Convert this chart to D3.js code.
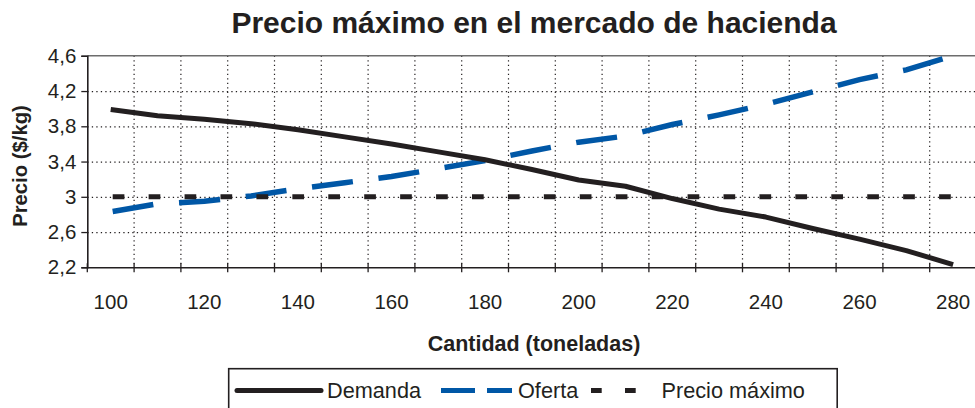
<!DOCTYPE html>
<html>
<head>
<meta charset="utf-8">
<script src="https://cdn.jsdelivr.net/npm/d3@7"></script>
<style>
  html, body { margin: 0; padding: 0; background: #fff; }
  svg { display: block; font-family: "Liberation Sans", Arial, Helvetica, sans-serif; }
</style>
</head>
<body>
<svg id="chart" width="975" height="408"></svg>
<script>
// ---- Data ----
const categories = [100, 110, 120, 130, 140, 150, 160, 170, 180, 190, 200, 210, 220, 230, 240, 250, 260, 270, 280];
const demanda = [3.99, 3.92, 3.88, 3.83, 3.76, 3.68, 3.60, 3.51, 3.42, 3.31, 3.19, 3.12, 2.98, 2.86, 2.77, 2.64, 2.52, 2.39, 2.23];
const oferta  = [2.83, 2.92, 2.95, 3.01, 3.09, 3.16, 3.23, 3.32, 3.41, 3.52, 3.62, 3.69, 3.82, 3.93, 4.05, 4.19, 4.33, 4.44, 4.60];
const precioMaximo = [3, 3, 3, 3, 3, 3, 3, 3, 3, 3, 3, 3, 3, 3, 3, 3, 3, 3, 3];
const yTicks = [2.2, 2.6, 3.0, 3.4, 3.8, 4.2, 4.6];
const xLabels = [100, 120, 140, 160, 180, 200, 220, 240, 260, 280];
const seriesNames = ["Demanda", "Oferta", "Precio máximo"];

const title = "Precio máximo en el mercado de hacienda";
const xTitle = "Cantidad (toneladas)";
const yTitle = "Precio ($/kg)";

// ---- Layout ----
const svg = d3.select("#chart");
const M = { left: 87.3, top: 55.8, right: 976.5, bottom: 267.3 };
const ink = "#231f20";
const blue = "#0057a6";

const x = d3.scaleBand().domain(categories).range([M.left, M.right]).padding(0);
const y = d3.scaleLinear().domain([2.2, 4.6]).range([M.bottom, M.top]);
const cx = d => x(d) + x.bandwidth() / 2;
const fmt = v => d3.format(".1f")(v).replace(".", ",").replace(/,0$/, "");

// Gridlines horizontal
const gY = svg.append("g")
  .attr("transform", `translate(${M.left},0)`)
  .call(d3.axisLeft(y).tickValues(yTicks).tickSize(-(M.right - M.left)).tickFormat(""));
gY.select(".domain").remove();
gY.selectAll(".tick line")
  .attr("stroke", d => (d === 4.6 || d === 2.2) ? "none" : ink)
  .attr("stroke-dasharray", "1.3,3.2").attr("stroke-width", 1.2);

// Gridlines vertical at category boundaries
const boundaries = categories.slice(1);
svg.append("g").selectAll("line").data(boundaries).join("line")
  .attr("x1", d => x(d)).attr("x2", d => x(d))
  .attr("y1", M.top).attr("y2", M.bottom)
  .attr("stroke", ink).attr("stroke-width", 1.2).attr("stroke-dasharray", "1.3,3.2");

// Top border
svg.append("line").attr("x1", M.left).attr("x2", 975).attr("y1", M.top).attr("y2", M.top)
  .attr("stroke", "#6d6d6d").attr("stroke-width", 1.6);

// Y axis
const yAxis = svg.append("g")
  .attr("transform", `translate(${M.left},0)`)
  .call(d3.axisLeft(y).tickValues(yTicks).tickSize(6).tickPadding(5).tickFormat(fmt));
yAxis.select(".domain").attr("stroke", ink).attr("stroke-width", 1.6);
yAxis.selectAll(".tick line").attr("stroke", ink).attr("stroke-width", 1.3);
yAxis.selectAll(".tick text").attr("fill", ink).style("font-size", "20.5px");

// X axis
const xAxis = svg.append("g")
  .attr("transform", `translate(0,${M.bottom})`)
  .call(d3.axisBottom(x).tickValues(xLabels).tickSize(0).tickPadding(27).tickFormat(d => d));
xAxis.select(".domain").attr("stroke", ink).attr("stroke-width", 1.6);
xAxis.selectAll(".tick text").attr("fill", ink).style("font-size", "20.5px");
// category boundary tick marks
svg.append("g").selectAll("line").data(categories).join("line")
  .attr("x1", d => x(d)).attr("x2", d => x(d))
  .attr("y1", M.bottom - 4).attr("y2", M.bottom + 5)
  .attr("stroke", ink).attr("stroke-width", 1.3);

// Lines
const line = d3.line().x((d, i) => cx(categories[i])).y(d => y(d));
const plot = svg.append("g");
plot.append("path").datum(oferta).attr("d", line)
  .attr("fill", "none").attr("stroke", blue).attr("stroke-width", 5.5)
  .attr("stroke-dasharray", "41.2,25.8").attr("stroke-dashoffset", -2);
plot.append("path").datum(demanda).attr("d", line)
  .attr("fill", "none").attr("stroke", ink).attr("stroke-width", 5).attr("stroke-linejoin", "round");
plot.append("path").datum(precioMaximo).attr("d", line)
  .attr("fill", "none").attr("stroke", ink).attr("stroke-width", 5)
  .attr("stroke-dasharray", "11.7,24.23").attr("stroke-dashoffset", -2);

// Titles
svg.append("text").attr("x", 534).attr("y", 33).attr("text-anchor", "middle")
  .attr("fill", ink).style("font-size", "30px").style("font-weight", "bold").text(title);
svg.append("text").attr("x", 534).attr("y", 351).attr("text-anchor", "middle")
  .attr("fill", ink).style("font-size", "21.5px").style("font-weight", "bold").text(xTitle);
svg.append("text").attr("transform", "translate(27,166) rotate(-90)").attr("text-anchor", "middle")
  .attr("fill", ink).style("font-size", "20.3px").style("font-weight", "bold").text(yTitle);

// Legend
const lg = svg.append("g");
lg.append("rect").attr("x", 228.7).attr("y", 368.7).attr("width", 608.5).attr("height", 60)
  .attr("fill", "#fff").attr("stroke", ink).attr("stroke-width", 1.6);
const ly = 390.5;
const legendItems = [
  { name: seriesNames[0], x1: 237, x2: 321, color: ink, dash: null, w: 5, tx: 327 },
  { name: seriesNames[1], x1: 441, x2: 512, color: blue, dash: "34,12", w: 5, tx: 518 },
  { name: seriesNames[2], x1: 591, x2: 658.5, color: ink, dash: "10.7,23.3", w: 5, tx: 661.5 }
];
legendItems.forEach(it => {
  lg.append("line").attr("x1", it.x1).attr("x2", it.x2).attr("y1", ly).attr("y2", ly)
    .attr("stroke", it.color).attr("stroke-width", it.w)
    .attr("stroke-linecap", it.dash ? "butt" : "round")
    .attr("stroke-dasharray", it.dash);
  lg.append("text").attr("x", it.tx).attr("y", ly).attr("dy", "0.35em")
    .attr("fill", ink).style("font-size", "21.7px").text(it.name);
});
</script>
</body>
</html>
